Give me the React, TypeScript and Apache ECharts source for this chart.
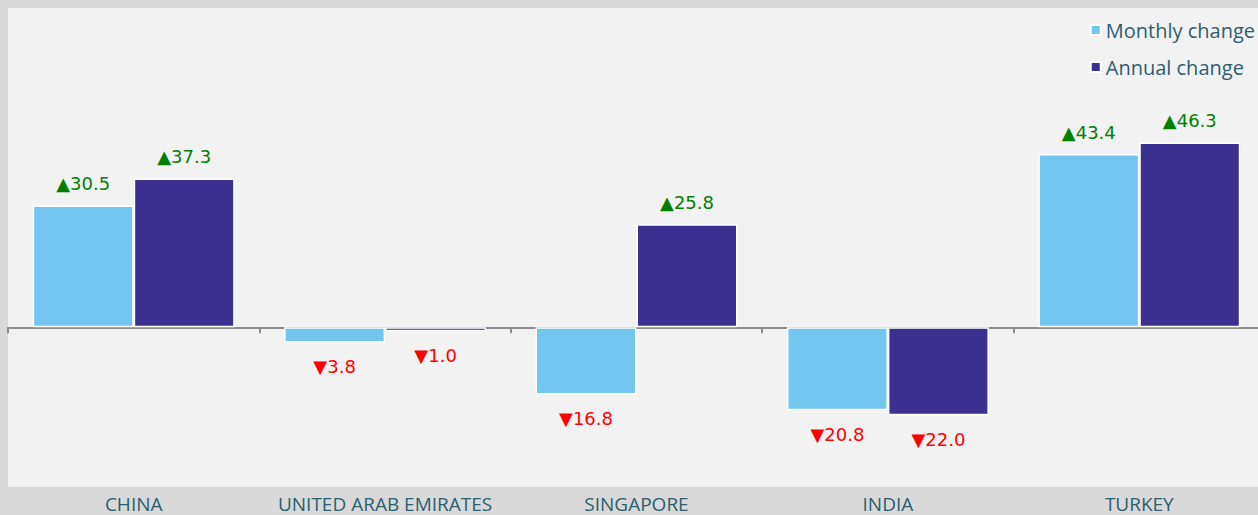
import React, { useEffect, useRef } from "react";
import * as echarts from "echarts";

const categories = ["CHINA", "UNITED ARAB EMIRATES", "SINGAPORE", "INDIA", "TURKEY"];
const monthlyChange = [30.5, -3.8, -16.8, -20.8, 43.4];
const annualChange = [37.3, -1.0, 25.8, -22.0, 46.3];
const seriesNames = ["Monthly change", "Annual change"];

const COLORS = ["#73c6ef", "#3b2f8f"];
const TEXT = "#2b5f6e";

function buildData(values: number[]) {
  return values.map((v) => ({
    value: v,
    label: {
      position: v >= 0 ? "top" : "bottom",
      color: v >= 0 ? "#008000" : "#ff0000",
      distance: v >= 0 ? 13 : 15,
    },
  }));
}

function fmt(p: any) {
  const v = p.value as number;
  return (v >= 0 ? "▲" : "▼") + Math.abs(v).toFixed(1);
}

export default function App() {
  const ref = useRef<HTMLDivElement>(null);
  useEffect(() => {
    document.body.style.margin = "0";
    const chart = echarts.init(ref.current!, null, { renderer: "svg" });
    const barSeries = (name: string, values: number[], color: string) => ({
      name,
      type: "bar",
      barWidth: 101,
      barGap: "0%",
      xAxisIndex: 0,
      itemStyle: { color, borderColor: "#ffffff", borderWidth: 1.5 },
      label: {
        show: true,
        formatter: fmt,
        fontSize: 18,
        fontFamily: "DejaVu Sans",
      },
      data: buildData(values),
    });
    chart.setOption({
      animation: false,
      backgroundColor: "#d9d9d9",
      legend: {
        orient: "vertical",
        right: 7,
        top: 17,
        padding: 3,
        itemWidth: 10,
        itemHeight: 10,
        itemGap: 17,
        icon: "rect",
        textStyle: { fontSize: 20, color: TEXT, fontFamily: "Open Sans", lineHeight: 20 },
        data: seriesNames,
      },
      grid: {
        left: 8,
        right: 0,
        top: 8,
        bottom: 28,
        show: true,
        backgroundColor: "#f2f2f2",
        borderWidth: 0,
        containLabel: false,
        outerBoundsMode: "none",
      },
      xAxis: [
        {
          type: "category",
          data: categories,
          axisLine: { onZero: true, lineStyle: { color: "#8c8c8c", width: 2 } },
          axisTick: { show: true, length: 6, lineStyle: { color: "#8c8c8c", width: 2 } },
          axisLabel: { show: false },
        },
        {
          type: "category",
          data: categories,
          position: "bottom",
          axisLine: { show: false, onZero: false },
          axisTick: { show: false },
          axisLabel: {
            show: true,
            interval: 0,
            margin: 7,
            fontSize: 19,
            lineHeight: 19,
            color: TEXT,
            fontFamily: "Open Sans",
          },
        },
      ],
      yAxis: {
        type: "value",
        min: -40,
        max: 80,
        show: false,
        splitLine: { show: false },
      },
      series: [
        barSeries(seriesNames[0], monthlyChange, COLORS[0]),
        barSeries(seriesNames[1], annualChange, COLORS[1]),
      ],
    });
    return () => chart.dispose();
  }, []);
  return (
    <div style={{ position: "fixed", left: 0, top: 0, width: 1258, height: 515, overflow: "hidden" }}>
      <div ref={ref} style={{ width: 1265, height: 515 }} />
    </div>
  );
}
